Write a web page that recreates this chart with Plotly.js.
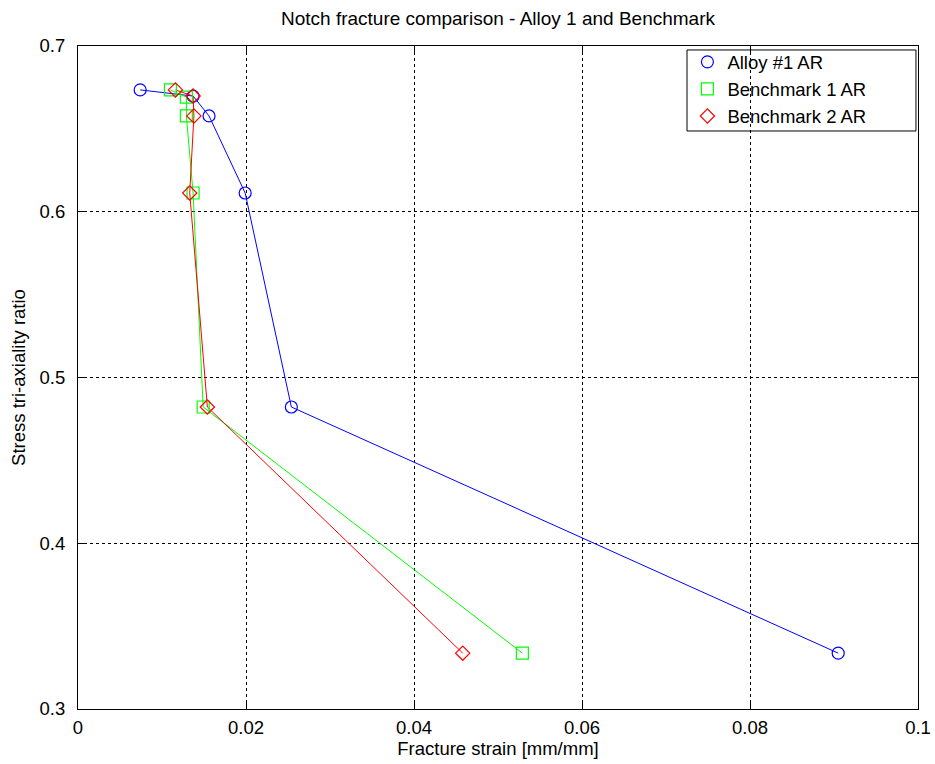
<!DOCTYPE html>
<html>
<head>
<meta charset="utf-8">
<script src="https://cdn.plot.ly/plotly-3.0.1.min.js"></script>
<style>html,body{margin:0;padding:0;background:#fff;}#chart{width:935px;height:764px;}</style>
</head>
<body>
<div id="chart"></div>
<script>
const seriesNames = ["Alloy #1 AR", "Benchmark 1 AR", "Benchmark 2 AR"];
const alloyX = [0.0074, 0.0137, 0.0156, 0.0199, 0.0254, 0.0905];
const alloyY = [0.6735, 0.6698, 0.6578, 0.6113, 0.4822, 0.3337];
const bench1X = [0.0110, 0.0129, 0.0129, 0.0137, 0.0149, 0.0529];
const bench1Y = [0.6735, 0.6692, 0.6578, 0.6113, 0.4822, 0.3337];
const bench2X = [0.0116, 0.0137, 0.0138, 0.0133, 0.0154, 0.0458];
const bench2Y = [0.6735, 0.6698, 0.6578, 0.6113, 0.4822, 0.3337];
const colors = ["#0000ff", "#00ff00", "#ff0000"];
const symbols = ["circle-open", "square-open", "diamond-open"];
const xs = [alloyX, bench1X, bench2X];
const ys = [alloyY, bench1Y, bench2Y];

const traces = [];
for (let i = 0; i < 3; i++) {
  traces.push({x: xs[i], y: ys[i], mode: "lines", type: "scatter",
    line: {color: colors[i], width: 1}, showlegend: false, hoverinfo: "skip"});
}
for (let i = 0; i < 3; i++) {
  traces.push({x: xs[i], y: ys[i], mode: "markers", type: "scatter", name: seriesNames[i],
    marker: {color: colors[i], symbol: symbols[i], size: i === 2 ? 11 : 12, line: {width: 1.2, color: colors[i]}}});
}

const axisCommon = {
  showline: true, linecolor: "#000", linewidth: 1, mirror: "ticks",
  ticks: "inside", ticklen: 7, tickcolor: "#000",
  showgrid: true, gridcolor: "#000", griddash: "dot", gridwidth: 1,
  zeroline: false, tickfont: {size: 18.5, color: "#000"}
};

const layout = {
  width: 935, height: 764,
  margin: {l: 78, r: 17, t: 46, b: 55},
  paper_bgcolor: "#fff", plot_bgcolor: "#fff",
  font: {family: "Liberation Sans, Arial, sans-serif", color: "#000"},
  title: {text: "Notch fracture comparison - Alloy 1 and Benchmark", font: {size: 19, color: "#000"}, xref: "paper", x: 0.5, xanchor: "center", y: 0.985, yanchor: "top"},
  xaxis: Object.assign({}, axisCommon, {range: [0, 0.1], dtick: 0.02, tickformat: "",
    ticklabelstandoff: 2,
    title: {text: "Fracture strain [mm/mm]", font: {size: 18.5}, standoff: 2}}),
  yaxis: Object.assign({}, axisCommon, {range: [0.3, 0.7], dtick: 0.1, tickformat: ".1f",
    ticklabelstandoff: 8,
    title: {text: "Stress tri-axiality ratio", font: {size: 18.5}, standoff: 9}}),
  legend: {x: 0.7255, y: 1.004, xanchor: "left", yanchor: "top", bgcolor: "rgba(0,0,0,0)",
    borderwidth: 0, font: {size: 18.5, color: "#000"}, itemwidth: 30, tracegroupgap: 0},
  shapes: [{type: "rect", xref: "paper", yref: "paper", x0: 0.725, x1: 0.9976, y0: 0.8718, y1: 0.994,
    line: {color: "#000", width: 1}, fillcolor: "rgba(0,0,0,0)", layer: "above"}]
};

Plotly.newPlot("chart", traces, layout, {displayModeBar: false, staticPlot: true});
</script>
</body>
</html>
